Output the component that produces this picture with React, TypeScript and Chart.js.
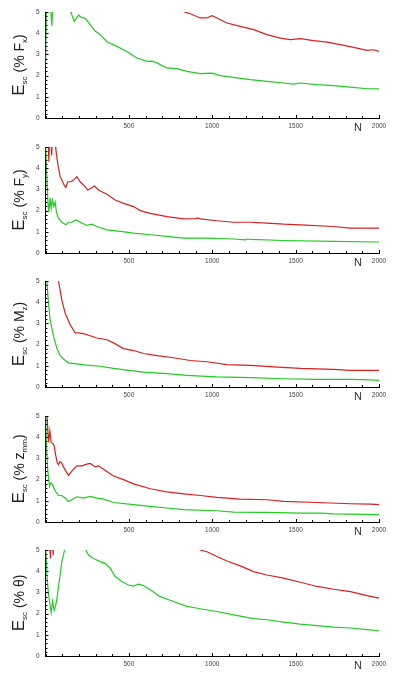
import React, { useEffect, useRef } from "react";
import { Chart, registerables } from "chart.js";

Chart.register(...registerables);

// ---- data ----
const xTickValues = [500, 1000, 1500, 2000];
const yTickValues = [0, 1, 2, 3, 4, 5];

const fxGreenN = [0, 6, 28, 38, 46, 100, 152, 172, 185, 198, 215, 238, 268, 298, 328, 368, 428, 488, 548, 608, 640, 668, 728, 788, 848, 928, 998, 1048, 1128, 1228, 1328, 1428, 1488, 1528, 1628, 1728, 1828, 1928, 2000];
const fxGreenV = [2.5, 5.5, 5.6, 4.35, 5.6, 6.0, 5.0, 4.55, 4.7, 4.85, 4.75, 4.7, 4.4, 4.1, 3.93, 3.6, 3.38, 3.14, 2.83, 2.67, 2.68, 2.6, 2.36, 2.33, 2.2, 2.09, 2.12, 2.0, 1.92, 1.81, 1.73, 1.65, 1.6, 1.65, 1.57, 1.53, 1.46, 1.38, 1.37];
const fxRedN = [760, 834, 868, 928, 968, 998, 1028, 1088, 1168, 1248, 1328, 1408, 1468, 1528, 1608, 1688, 1768, 1848, 1928, 1968, 2000];
const fxRedV = [5.4, 5.0, 4.92, 4.72, 4.72, 4.83, 4.72, 4.48, 4.32, 4.17, 3.93, 3.77, 3.7, 3.74, 3.65, 3.58, 3.46, 3.33, 3.19, 3.22, 3.14];

const fyGreenN = [0, 6, 14, 20, 28, 34, 42, 50, 58, 66, 78, 98, 122, 138, 158, 184, 208, 248, 278, 308, 368, 448, 528, 628, 728, 828, 968, 1128, 1200, 1210, 1228, 1428, 1728, 2000];
const fyGreenV = [5.2, 4.0, 2.5, 1.95, 2.6, 2.1, 2.5, 2.2, 2.4, 1.9, 1.64, 1.45, 1.33, 1.45, 1.45, 1.56, 1.45, 1.3, 1.36, 1.25, 1.09, 1.02, 0.94, 0.86, 0.78, 0.7, 0.7, 0.66, 0.62, 0.66, 0.64, 0.59, 0.55, 0.52];
const fyRedN = [8, 16, 20, 25, 33, 37, 41, 58, 62, 70, 78, 88, 98, 112, 122, 134, 152, 168, 188, 208, 238, 254, 278, 294, 318, 368, 418, 468, 528, 568, 628, 728, 828, 900, 915, 928, 1028, 1128, 1228, 1328, 1428, 1528, 1728, 1828, 2000];
const fyRedV = [5.5, 5.4, 4.3, 5.4, 5.4, 4.6, 5.4, 5.2, 4.9, 4.4, 4.0, 3.6, 3.44, 3.2, 3.09, 3.36, 3.36, 3.44, 3.6, 3.36, 3.13, 2.97, 3.08, 3.16, 2.97, 2.77, 2.5, 2.34, 2.19, 2.0, 1.87, 1.72, 1.61, 1.62, 1.66, 1.61, 1.52, 1.45, 1.45, 1.41, 1.36, 1.33, 1.25, 1.17, 1.17];

const mzGreenN = [0, 8, 18, 28, 48, 68, 88, 118, 138, 188, 248, 328, 408, 488, 588, 728, 848, 1028, 1228, 1428, 1628, 1828, 1950, 2000];
const mzGreenV = [6.0, 5.0, 3.95, 3.17, 2.39, 1.84, 1.48, 1.25, 1.14, 1.09, 1.03, 0.98, 0.88, 0.8, 0.7, 0.63, 0.55, 0.48, 0.44, 0.39, 0.36, 0.36, 0.34, 0.31];
const mzRedN = [60, 78, 98, 118, 148, 178, 198, 228, 268, 308, 368, 408, 468, 528, 588, 668, 768, 868, 968, 1088, 1228, 1368, 1528, 1728, 1828, 2000];
const mzRedV = [5.6, 5.0, 4.1, 3.48, 2.94, 2.55, 2.55, 2.52, 2.42, 2.31, 2.23, 2.08, 1.81, 1.72, 1.58, 1.48, 1.38, 1.25, 1.19, 1.06, 1.02, 0.95, 0.88, 0.83, 0.78, 0.78];

const zmGreenN = [0, 6, 14, 24, 32, 42, 58, 78, 98, 118, 138, 158, 188, 228, 268, 308, 348, 408, 528, 628, 728, 828, 1028, 1128, 1328, 1528, 1650, 1728, 2000];
const zmGreenV = [5.2, 3.5, 2.4, 1.68, 1.85, 1.76, 1.47, 1.25, 1.25, 1.13, 0.97, 1.05, 1.19, 1.13, 1.21, 1.13, 1.08, 0.92, 0.82, 0.74, 0.66, 0.58, 0.53, 0.47, 0.45, 0.42, 0.42, 0.38, 0.35];
const zmRedN = [0, 10, 18, 26, 34, 44, 52, 60, 70, 78, 86, 96, 108, 122, 138, 158, 188, 218, 248, 268, 298, 318, 348, 408, 468, 528, 628, 728, 828, 928, 1028, 1168, 1328, 1428, 1628, 1828, 1950, 2000];
const zmRedV = [5.5, 4.9, 3.75, 4.3, 3.75, 3.7, 3.6, 3.2, 2.8, 2.7, 2.85, 2.8, 2.6, 2.4, 2.2, 2.4, 2.65, 2.65, 2.73, 2.76, 2.6, 2.65, 2.49, 2.17, 2.0, 1.8, 1.57, 1.42, 1.33, 1.25, 1.16, 1.08, 1.05, 0.97, 0.92, 0.86, 0.84, 0.82];

const thGreenN = [0, 8, 18, 28, 34, 42, 52, 62, 68, 78, 88, 98, 112, 120, 160, 200, 242, 258, 288, 328, 358, 388, 418, 458, 498, 528, 558, 588, 628, 688, 768, 848, 928, 1028, 1128, 1248, 1328, 1428, 1528, 1628, 1728, 1828, 1928, 2000];
const thGreenV = [5.3, 3.9, 2.9, 2.35, 2.06, 2.59, 2.16, 2.43, 2.66, 3.28, 3.82, 4.45, 4.92, 5.3, 6.0, 6.0, 5.0, 4.76, 4.6, 4.45, 4.37, 4.14, 3.75, 3.51, 3.35, 3.3, 3.39, 3.32, 3.12, 2.8, 2.57, 2.34, 2.23, 2.1, 1.94, 1.76, 1.71, 1.6, 1.5, 1.43, 1.36, 1.32, 1.24, 1.19];
const thRedN = [20, 30, 36, 46, 52, 850, 928, 968, 1028, 1088, 1168, 1248, 1328, 1428, 1528, 1628, 1728, 1828, 1928, 2000];
const thRedV = [6.0, 4.6, 6.5, 4.75, 6.5, 5.5, 5.0, 4.92, 4.69, 4.48, 4.25, 3.98, 3.82, 3.67, 3.48, 3.28, 3.15, 3.04, 2.85, 2.73];

type Part = { t: string; size: number; sub?: boolean };

const titles: Part[][] = [
  [{ t: "E", size: 17 }, { t: "sc", size: 8, sub: true }, { t: " (% ", size: 14 }, { t: "F", size: 14 }, { t: "x", size: 8, sub: true }, { t: ")", size: 14 }],
  [{ t: "E", size: 17 }, { t: "sc", size: 8, sub: true }, { t: " (% ", size: 14 }, { t: "F", size: 14 }, { t: "y", size: 8, sub: true }, { t: ")", size: 14 }],
  [{ t: "E", size: 17 }, { t: "sc", size: 8, sub: true }, { t: " (% ", size: 14 }, { t: "M", size: 14 }, { t: "z", size: 8, sub: true }, { t: ")", size: 14 }],
  [{ t: "E", size: 17 }, { t: "sc", size: 8, sub: true }, { t: " (% ", size: 14 }, { t: "z", size: 14 }, { t: "mm", size: 8, sub: true }, { t: ")", size: 14 }],
  [{ t: "E", size: 17 }, { t: "sc", size: 8, sub: true }, { t: " (% ", size: 14 }, { t: "θ", size: 14 }, { t: ")", size: 14 }],
];

const panels = [
  { gN: fxGreenN, gV: fxGreenV, rN: fxRedN, rV: fxRedV },
  { gN: fyGreenN, gV: fyGreenV, rN: fyRedN, rV: fyRedV },
  { gN: mzGreenN, gV: mzGreenV, rN: mzRedN, rV: mzRedV },
  { gN: zmGreenN, gV: zmGreenV, rN: zmRedN, rV: zmRedV },
  { gN: thGreenN, gV: thGreenV, rN: thRedN, rV: thRedV },
];

const panelTops = [0, 135, 269, 404, 538];
const FONT = "'Liberation Sans', Arial, sans-serif";
const GREEN = "#22cc22";
const RED = "#dd1f1f";

const toPts = (n: number[], v: number[]) => n.map((x, i) => ({ x, y: v[i] }));

const tickPlugin = {
  id: "inwardTicks",
  afterDraw(chart: any) {
    const { ctx, chartArea, scales } = chart;
    ctx.save();
    ctx.strokeStyle = "#000";
    ctx.lineWidth = 1;
    ctx.beginPath();
    scales.x.ticks.forEach((t: any) => {
      const px = Math.round(scales.x.getPixelForValue(t.value)) + 0.5;
      const len = xTickValues.includes(t.value) ? 3 : 2;
      ctx.moveTo(px, chartArea.bottom);
      ctx.lineTo(px, chartArea.bottom - len);
    });
    scales.y.ticks.forEach((t: any) => {
      const py = Math.round(scales.y.getPixelForValue(t.value)) + 0.5;
      const major = yTickValues.some((v) => Math.abs(v - t.value) < 1e-6);
      const len = major ? 3 : 2;
      ctx.moveTo(chartArea.left, py);
      ctx.lineTo(chartArea.left + len, py);
    });
    ctx.stroke();
    ctx.restore();
  },
};

const makeTitlePlugin = (parts: Part[]) => ({
  id: "yTitle",
  afterDraw(chart: any) {
    const { ctx, chartArea } = chart;
    ctx.save();
    ctx.fillStyle = "#222";
    ctx.textBaseline = "alphabetic";
    ctx.textAlign = "left";
    let total = 0;
    const widths = parts.map((p) => {
      ctx.font = `${p.size}px ${FONT}`;
      const w = ctx.measureText(p.t).width;
      total += w;
      return w;
    });
    const cy = (chartArea.top + chartArea.bottom) / 2;
    ctx.translate(23.5, cy);
    ctx.rotate(-Math.PI / 2);
    let x = -total / 2;
    parts.forEach((p, i) => {
      ctx.font = `${p.size}px ${FONT}`;
      ctx.fillText(p.t, x, p.sub ? 3 : 0);
      x += widths[i];
    });
    ctx.restore();
    ctx.save();
    ctx.fillStyle = "#333";
    ctx.font = `11px ${FONT}`;
    ctx.textAlign = "center";
    ctx.textBaseline = "middle";
    ctx.fillText("N", chartArea.right - 21, chartArea.bottom + 10);
    ctx.restore();
  },
});

function Panel({ idx }: { idx: number }) {
  const ref = useRef<HTMLCanvasElement | null>(null);
  useEffect(() => {
    if (!ref.current) return;
    const p = panels[idx];
    const chart = new Chart(ref.current, {
      type: "line",
      data: {
        datasets: [
          { data: toPts(p.gN, p.gV), borderColor: GREEN, borderWidth: 1.2, pointRadius: 0, tension: 0, fill: false },
          { data: toPts(p.rN, p.rV), borderColor: RED, borderWidth: 1.2, pointRadius: 0, tension: 0, fill: false },
        ],
      },
      options: {
        animation: false,
        responsive: false,
        maintainAspectRatio: false,
        layout: { padding: { left: 0, right: 14, top: 12, bottom: 0 } },
        plugins: { legend: { display: false }, tooltip: { enabled: false } },
        scales: {
          x: {
            type: "linear",
            min: 0,
            max: 2000,
            grid: { display: false, drawTicks: false },
            border: { display: true, color: "#000", width: 1 },
            ticks: {
              stepSize: 100,
              maxTicksLimit: 100,
              autoSkip: false,
              maxRotation: 0,
              padding: 4,
              color: "#444",
              font: { size: 6.5, family: FONT },
              callback: (v: any) => (xTickValues.includes(Number(v)) ? String(v) : ""),
            },
            afterFit: (s: any) => {
              s.height = 18;
            },
          },
          y: {
            type: "linear",
            min: 0,
            max: 5,
            grid: { display: false, drawTicks: false },
            border: { display: true, color: "#000", width: 1 },
            ticks: {
              stepSize: 0.2,
              maxTicksLimit: 100,
              autoSkip: false,
              padding: 6,
              color: "#444",
              font: { size: 6.5, family: FONT },
              callback: (v: any) => {
                const n = Number(v);
                const hit = yTickValues.find((t) => Math.abs(t - n) < 1e-6);
                return hit === undefined ? "" : String(hit);
              },
            },
            afterFit: (s: any) => {
              s.width = 45.5;
            },
          },
        },
      },
      plugins: [tickPlugin, makeTitlePlugin(titles[idx])],
    } as any);
    return () => chart.destroy();
  }, [idx]);
  return (
    <canvas
      ref={ref}
      width={393}
      height={136}
      style={{ position: "absolute", left: 0, top: panelTops[idx], width: 393, height: 136 }}
    />
  );
}

export default function App() {
  return (
    <div style={{ position: "absolute", left: 0, top: 0, width: 393, height: 681, background: "#fff" }}>
      {panels.map((_, i) => (
        <Panel key={i} idx={i} />
      ))}
    </div>
  );
}
